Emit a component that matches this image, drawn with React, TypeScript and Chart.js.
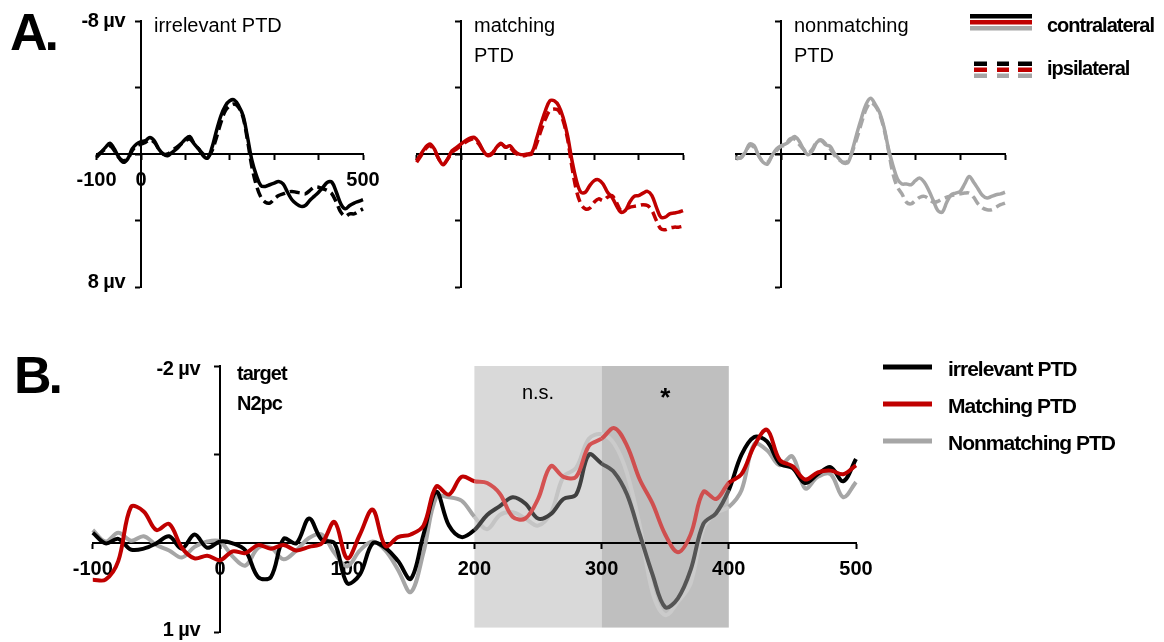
import React, { useEffect, useRef } from 'react';
import { Chart, registerables } from 'chart.js';

Chart.register(...registerables);

// ---------------- DATA ----------------
const TIME = [-100, -90, -80, -70, -60, -50, -40, -30, -20, -10, 0, 10, 20, 30, 40, 50, 60, 70, 80, 90, 100, 110, 120, 130, 140, 150, 160, 170, 180, 190, 200, 210, 220, 230, 240, 250, 260, 270, 280, 290, 300, 310, 320, 330, 340, 350, 360, 370, 380, 390, 400, 410, 420, 430, 440, 450, 460, 470, 480, 490, 500];

// Panel A (µV, negative plotted up)
const IRR_CONTRA = [0.2, -0.1, -0.4, -0.65, -0.3, 0.2, 0.5, 0.3, -0.3, -0.6,
  -0.75, -0.8, -1.0, -0.8, -0.3, 0.0, 0.1, -0.1, -0.3, -0.6,
  -0.9, -1.05, -0.6, -0.3, 0.1, 0.25, -0.4, -1.4, -2.3, -2.9,
  -3.2, -3.25, -2.9, -2.3, -1.0, 0.4, 1.3, 1.9, 1.95, 1.85,
  1.75, 1.65, 1.8, 2.3, 2.75, 3.0, 3.15, 3.1, 2.8, 2.55,
  2.3, 2.0, 1.7, 1.7, 2.3, 3.0, 3.3, 3.1, 2.95, 2.85,
  2.75];
const IRR_IPSI = [0.1, -0.1, -0.3, -0.5, -0.2, 0.2, 0.4, 0.3, -0.2, -0.5,
  -0.6, -0.7, -0.85, -0.7, -0.3, 0.0, 0.0, -0.2, -0.4, -0.6,
  -0.8, -0.9, -0.6, -0.3, 0.0, 0.2, -0.2, -1.0, -1.9, -2.6,
  -2.9, -3.0, -2.8, -2.2, -0.8, 0.8, 1.9, 2.6, 2.9, 2.95,
  2.7, 2.5, 2.4, 2.3, 2.25, 2.3, 2.35, 2.4, 2.2, 2.0,
  2.0, 2.1, 2.2, 2.4, 2.9, 3.5, 3.75, 3.6, 3.6, 3.45,
  3.3];
const MATCH_CONTRA = [0.4, 0.0, -0.4, -0.6, -0.3, 0.3, 0.65, 0.3, -0.2, -0.4,
  -0.6, -0.8, -0.95, -1.0, -0.7, -0.2, 0.1, 0.0, -0.4, -0.65,
  -0.4, -0.5, -0.2, 0.0, 0.05, 0.0, -0.1, -0.9, -1.8, -2.6,
  -3.2, -3.2, -2.9, -2.2, -1.1, 0.4, 1.6, 2.3, 2.3, 1.9,
  1.6, 1.55, 1.8, 2.3, 2.6, 3.1, 3.5, 3.4, 2.9, 2.55,
  2.5, 2.35, 2.25, 2.5, 3.2, 3.8, 3.8, 3.6, 3.55, 3.5,
  3.4];
const MATCH_IPSI = [0.5, 0.1, -0.3, -0.5, -0.2, 0.3, 0.6, 0.3, -0.1, -0.3,
  -0.5, -0.7, -0.85, -0.9, -0.6, -0.2, 0.05, -0.05, -0.4, -0.6,
  -0.45, -0.4, -0.1, 0.05, 0.1, 0.05, 0.0, -0.6, -1.4, -2.1,
  -2.6, -2.7, -2.6, -2.0, -0.9, 0.8, 2.2, 3.0, 3.3, 3.25,
  2.9, 2.7, 2.8, 2.6, 2.5, 2.9, 3.4, 3.3, 3.2, 3.15,
  3.1, 3.05, 3.1, 3.4, 4.0, 4.5, 4.55, 4.45, 4.4, 4.4,
  4.35];
const NONMATCH_CONTRA = [0.2, 0.25, -0.1, -0.6, -0.5, 0.1, 0.5, 0.6, 0.1, -0.3,
  -0.5, -0.6, -0.8, -1.05, -0.8, -0.3, 0.05, -0.2, -0.7, -0.8,
  -0.55, -0.45, 0.0, 0.3, 0.55, 0.5, -0.3, -1.3, -2.2, -3.0,
  -3.35, -3.0, -2.5, -1.6, -0.3, 0.7, 1.5, 1.8, 1.8, 1.85,
  1.6, 1.45, 1.7, 2.2, 2.8, 3.4, 3.5, 2.9, 2.45, 2.35,
  2.25, 1.8, 1.35, 1.7, 2.1, 2.5, 2.65, 2.55, 2.45, 2.4,
  2.3];
const NONMATCH_IPSI = [0.3, 0.2, -0.1, -0.5, -0.4, 0.1, 0.45, 0.5, 0.1, -0.2,
  -0.45, -0.55, -0.9, -0.9, -0.6, -0.3, -0.05, -0.3, -0.75, -0.85,
  -0.6, -0.3, 0.1, 0.35, 0.5, 0.4, -0.2, -1.0, -1.9, -2.7,
  -3.1, -2.9, -2.4, -1.5, -0.2, 1.2, 2.0, 2.4, 2.9, 3.0,
  2.8, 2.6, 2.55, 2.7, 2.9, 2.85, 2.7, 2.6, 2.5, 2.45,
  2.4, 2.35, 2.35, 2.6, 3.0, 3.25, 3.35, 3.35, 3.2, 3.05,
  2.95];

// Panel B: target N2pc difference waves (µV)
const B_IRRELEVANT = [-0.12, 0.0, -0.05, 0.07, 0.06, 0.0, -0.08, 0.06, -0.1, 0.05,
  -0.02, 0.0, 0.08, 0.38, 0.38, -0.05, 0.0, -0.28, -0.04, 0.0,
  0.45, 0.35, 0.0, 0.05, 0.2, 0.4, -0.1, -0.58, -0.2, -0.07,
  -0.15, -0.32, -0.42, -0.52, -0.45, -0.28, -0.33, -0.5, -0.55, -1.0,
  -0.9, -0.8, -0.55, -0.1, 0.35, 0.72, 0.62, 0.3, -0.22, -0.34,
  -0.6, -1.0, -1.2, -1.15, -0.9, -0.85, -0.68, -0.78, -0.86, -0.7,
  -0.95];
const B_MATCHING = [0.41, 0.41, 0.2, -0.41, -0.36, -0.15, -0.22, 0.05, 0.17, 0.14,
  0.19, 0.09, 0.11, 0.02, 0.06, 0.02, 0.08, 0.04, 0.0, -0.24,
  0.17, -0.1, -0.38, 0.03, -0.07, -0.1, -0.2, -0.64, -0.55, -0.75,
  -0.7, -0.68, -0.56, -0.3, -0.28, -0.5, -0.87, -0.75, -0.75, -1.1,
  -1.18, -1.3, -1.1, -0.72, -0.45, -0.1, 0.1, -0.1, -0.58, -0.5,
  -0.68, -0.78, -1.1, -1.28, -0.94, -0.87, -0.72, -0.8, -0.82, -0.78,
  -0.88];
const B_NONMATCHING = [-0.15, -0.02, -0.12, -0.03, -0.08, 0.02, 0.08, 0.16, 0.04, -0.02,
  -0.02, 0.15, 0.25, 0.05, 0.05, 0.18, 0.08, -0.06, -0.1, 0.11,
  0.26, 0.08, -0.02, 0.08, 0.3, 0.55, 0.1, -0.52, -0.52, -0.48,
  -0.3, -0.16, -0.32, -0.35, -0.28, -0.2, -0.34, -0.75, -0.85, -1.18,
  -1.23, -1.12, -0.79, -0.2, 0.55, 0.81, 0.66, 0.45, -0.17, -0.34,
  -0.41, -0.6, -1.12, -1.05, -0.88, -0.98, -0.62, -0.75, -0.78, -0.52,
  -0.69];

const A_TITLES = [['irrelevant PTD'], ['matching', 'PTD'], ['nonmatching', 'PTD']];
const A_X_LABELS = [-100, 0, 500];
const A_Y_LABELS = ['-8 µv', '8 µv'];
const A_Y_RANGE = [-8, 8];
const A_LEGEND = ['contralateral', 'ipsilateral'];

const B_X_LABELS = [-100, 0, 100, 200, 300, 400, 500];
const B_Y_LABELS = ['-2 µv', '1 µv'];
const B_Y_RANGE = [-2, 1];
const B_TITLE = ['target', 'N2pc'];
const B_LEGEND = ['irrelevant PTD', 'Matching PTD', 'Nonmatching PTD'];
const SHADE_RANGES = [[200, 300], [300, 400]];
const SHADE_Y = [-2, 0.95];
const SHADE_LABELS = ['n.s.', '*'];

// ---------------- STYLE ----------------
const W = 1164;
const H = 642;
const FONT = "'Liberation Sans', Arial, Helvetica, sans-serif";
const BLACK = '#000000';
const RED = '#c00000';
const GRAY = '#a6a6a6';
const SERIES_COLORS = [BLACK, RED, GRAY];
const SHADE_FILLS = ['#d9d9d9', '#bfbfbf'];
// line colours as they appear inside the light / dark shaded windows
const SHADED_LINE = [
  ['#404040', '#555555'],
  ['#d45252', '#cf4f4f'],
  ['#c4c4c4', '#cbcbcb'],
];

const A_AREAS = [
  { left: 96.6, right: 363, top: 21, bottom: 287 },
  { left: 416.6, right: 683, top: 21, bottom: 287 },
  { left: 736.2, right: 1005, top: 21, bottom: 287 },
];
const B_AREA = { left: 92.8, right: 856, top: 366, bottom: 632 };

function pts(vals: number[]) {
  return TIME.map((t, i) => ({ x: t, y: vals[i] }));
}

function drawText(ctx: CanvasRenderingContext2D, str: string, x: number, y: number, size: number, bold: boolean, align: CanvasTextAlign = 'left', spacing = 0) {
  ctx.save();
  ctx.font = `${bold ? 'bold ' : ''}${size}px ${FONT}`;
  ctx.fillStyle = '#000';
  ctx.textAlign = align;
  ctx.textBaseline = 'alphabetic';
  if (spacing) (ctx as any).letterSpacing = `${spacing}px`;
  ctx.fillText(str, x, y);
  ctx.restore();
}

function axisStyle() {
  return {
    grid: { display: true, drawOnChartArea: false, drawTicks: true, tickLength: 5, tickWidth: 2, tickColor: '#000' },
    border: { display: true, color: '#000', width: 2 },
  };
}

function padding(area: { left: number; right: number; top: number; bottom: number }) {
  return { left: area.left, right: W - area.right, top: area.top, bottom: H - area.bottom };
}

function buildA(canvas: HTMLCanvasElement, idx: number) {
  const contra = [IRR_CONTRA, MATCH_CONTRA, NONMATCH_CONTRA][idx];
  const ipsi = [IRR_IPSI, MATCH_IPSI, NONMATCH_IPSI][idx];
  const color = SERIES_COLORS[idx];
  const annot = {
    id: 'annotA' + idx,
    afterDraw(chart: any) {
      const ctx: CanvasRenderingContext2D = chart.ctx;
      const xs = chart.scales.x;
      const ys = chart.scales.y;
      const ax = xs.getPixelForValue(0);
      const title = A_TITLES[idx];
      title.forEach((line, i) => drawText(ctx, line, ax + 13, 32 + i * 30, 20, false));
      if (idx === 0) {
        drawText(ctx, 'A.', 10, 50, 52, true, 'left', -3);
        drawText(ctx, A_Y_LABELS[0], ax - 16, ys.getPixelForValue(A_Y_RANGE[0]) + 6, 20, true, 'right', -0.5);
        drawText(ctx, A_Y_LABELS[1], ax - 16, ys.getPixelForValue(A_Y_RANGE[1]) + 1, 20, true, 'right', -0.5);
      }
      if (idx === 2) {
        // legend
        const lx0 = 970;
        const lx1 = 1032;
        SERIES_COLORS.forEach((c, i) => {
          ctx.fillStyle = c;
          ctx.fillRect(lx0, 14 + i * 6, lx1 - lx0, 4.5);
          const dashes = [[974, 987], [997, 1009], [1018, 1032]];
          dashes.forEach(([a, b]) => ctx.fillRect(a, 61.5 + i * 6, b - a, 4.5));
        });
        drawText(ctx, A_LEGEND[0], 1047, 31.5, 20, true, 'left', -1);
        drawText(ctx, A_LEGEND[1], 1047, 75, 20, true, 'left', -1);
      }
    },
  };
  return new Chart(canvas, {
    type: 'line',
    data: {
      datasets: [
        { data: pts(contra), borderColor: color, borderWidth: 3.5, pointRadius: 0, tension: 0.35, order: 1, clip: false, borderJoinStyle: 'round' },
        { data: pts(ipsi), borderColor: color, borderWidth: 3.5, borderDash: [10, 5], pointRadius: 0, tension: 0.35, order: 2, clip: false },
      ],
    } as any,
    options: {
      responsive: false,
      animation: false,
      events: [],
      layout: { padding: padding(A_AREAS[idx]) },
      plugins: { legend: { display: false }, tooltip: { enabled: false } },
      scales: {
        x: {
          type: 'linear', min: -100, max: 500, position: { y: 0 },
          ticks: {
            stepSize: 100, autoSkip: false, maxRotation: 0, padding: 9, color: '#000',
            font: { family: FONT, size: 20, weight: 'bold' },
            callback: (v: any) => (idx === 0 && A_X_LABELS.includes(Number(v)) ? String(v) : ''),
          },
          ...axisStyle(),
        },
        y: {
          type: 'linear', min: A_Y_RANGE[0], max: A_Y_RANGE[1], reverse: true, position: { x: 0 },
          ticks: { stepSize: 4, display: false },
          ...axisStyle(),
        },
      },
    } as any,
    plugins: [annot],
  });
}

function buildB(canvas: HTMLCanvasElement) {
  const series = [B_IRRELEVANT, B_MATCHING, B_NONMATCHING];
  const orders = [2, 1, 3];
  const shadeIndex = (x: number) => {
    for (let i = 0; i < SHADE_RANGES.length; i++) {
      if (x > SHADE_RANGES[i][0] && x < SHADE_RANGES[i][1]) return i;
    }
    return -1;
  };
  const annot = {
    id: 'annotB',
    beforeDraw(chart: any) {
      const ctx: CanvasRenderingContext2D = chart.ctx;
      const xs = chart.scales.x;
      const ys = chart.scales.y;
      const top = ys.getPixelForValue(SHADE_Y[0]);
      const bot = ys.getPixelForValue(SHADE_Y[1]);
      SHADE_RANGES.forEach(([a, b], i) => {
        const x0 = xs.getPixelForValue(a);
        const x1 = xs.getPixelForValue(b);
        ctx.fillStyle = SHADE_FILLS[i];
        ctx.fillRect(x0, top, x1 - x0, bot - top);
      });
    },
    afterDraw(chart: any) {
      const ctx: CanvasRenderingContext2D = chart.ctx;
      const xs = chart.scales.x;
      const ys = chart.scales.y;
      const ax = xs.getPixelForValue(0);
      drawText(ctx, 'B.', 14, 393, 52, true, 'left', -3);
      drawText(ctx, B_Y_LABELS[0], ax - 20, ys.getPixelForValue(B_Y_RANGE[0]) + 9, 20, true, 'right', -0.5);
      drawText(ctx, B_Y_LABELS[1], ax - 20, ys.getPixelForValue(B_Y_RANGE[1]) + 4, 20, true, 'right', -0.5);
      drawText(ctx, B_TITLE[0], ax + 17, 380, 20, true, 'left', -1);
      drawText(ctx, B_TITLE[1], ax + 17, 410, 20, true, 'left', -1);
      const mid0 = (xs.getPixelForValue(SHADE_RANGES[0][0]) + xs.getPixelForValue(SHADE_RANGES[0][1])) / 2;
      const mid1 = (xs.getPixelForValue(SHADE_RANGES[1][0]) + xs.getPixelForValue(SHADE_RANGES[1][1])) / 2;
      drawText(ctx, SHADE_LABELS[0], mid0, 399, 20, false, 'center');
      drawText(ctx, SHADE_LABELS[1], mid1, 406, 26, true, 'center');
      // legend
      B_LEGEND.forEach((label, i) => {
        const ly = 367 + i * 37;
        ctx.save();
        ctx.strokeStyle = SERIES_COLORS[i];
        ctx.lineWidth = 5;
        ctx.beginPath();
        ctx.moveTo(883, ly);
        ctx.lineTo(932, ly);
        ctx.stroke();
        ctx.restore();
        drawText(ctx, label, 948, ly + 9, 21, true, 'left', -1);
      });
    },
  };
  return new Chart(canvas, {
    type: 'line',
    data: {
      datasets: series.map((vals, i) => ({
        data: pts(vals),
        borderColor: SERIES_COLORS[i],
        borderWidth: 4,
        pointRadius: 0,
        tension: 0.35,
        order: orders[i],
        clip: false,
        borderJoinStyle: 'round',
        segment: {
          borderColor: (c: any) => {
            const s = shadeIndex((c.p0.parsed.x + c.p1.parsed.x) / 2);
            return s >= 0 ? SHADED_LINE[i][s] : undefined;
          },
        },
      })),
    } as any,
    options: {
      responsive: false,
      animation: false,
      events: [],
      layout: { padding: padding(B_AREA) },
      plugins: { legend: { display: false }, tooltip: { enabled: false } },
      scales: {
        x: {
          type: 'linear', min: -100, max: 500, position: { y: 0 },
          ticks: {
            stepSize: 100, autoSkip: false, maxRotation: 0, padding: 9, color: '#000',
            font: { family: FONT, size: 20, weight: 'bold' },
            callback: (v: any) => (B_X_LABELS.includes(Number(v)) ? String(v) : ''),
          },
          ...axisStyle(),
        },
        y: {
          type: 'linear', min: B_Y_RANGE[0], max: B_Y_RANGE[1], reverse: true, position: { x: 0 },
          ticks: { stepSize: 1, display: false },
          ...axisStyle(),
        },
      },
    } as any,
    plugins: [annot],
  });
}

export default function App() {
  const r0 = useRef<HTMLCanvasElement>(null);
  const r1 = useRef<HTMLCanvasElement>(null);
  const r2 = useRef<HTMLCanvasElement>(null);
  const r3 = useRef<HTMLCanvasElement>(null);

  useEffect(() => {
    const charts: Chart[] = [];
    if (r0.current) charts.push(buildA(r0.current, 0));
    if (r1.current) charts.push(buildA(r1.current, 1));
    if (r2.current) charts.push(buildA(r2.current, 2));
    if (r3.current) charts.push(buildB(r3.current));
    return () => charts.forEach((c) => c.destroy());
  }, []);

  const cs: React.CSSProperties = { position: 'absolute', left: 0, top: 0, width: W, height: H };
  return (
    <div style={{ position: 'absolute', left: 0, top: 0, width: W, height: H, background: '#fff', overflow: 'hidden' }}>
      <canvas ref={r0} width={W} height={H} style={cs} />
      <canvas ref={r1} width={W} height={H} style={cs} />
      <canvas ref={r2} width={W} height={H} style={cs} />
      <canvas ref={r3} width={W} height={H} style={cs} />
    </div>
  );
}
